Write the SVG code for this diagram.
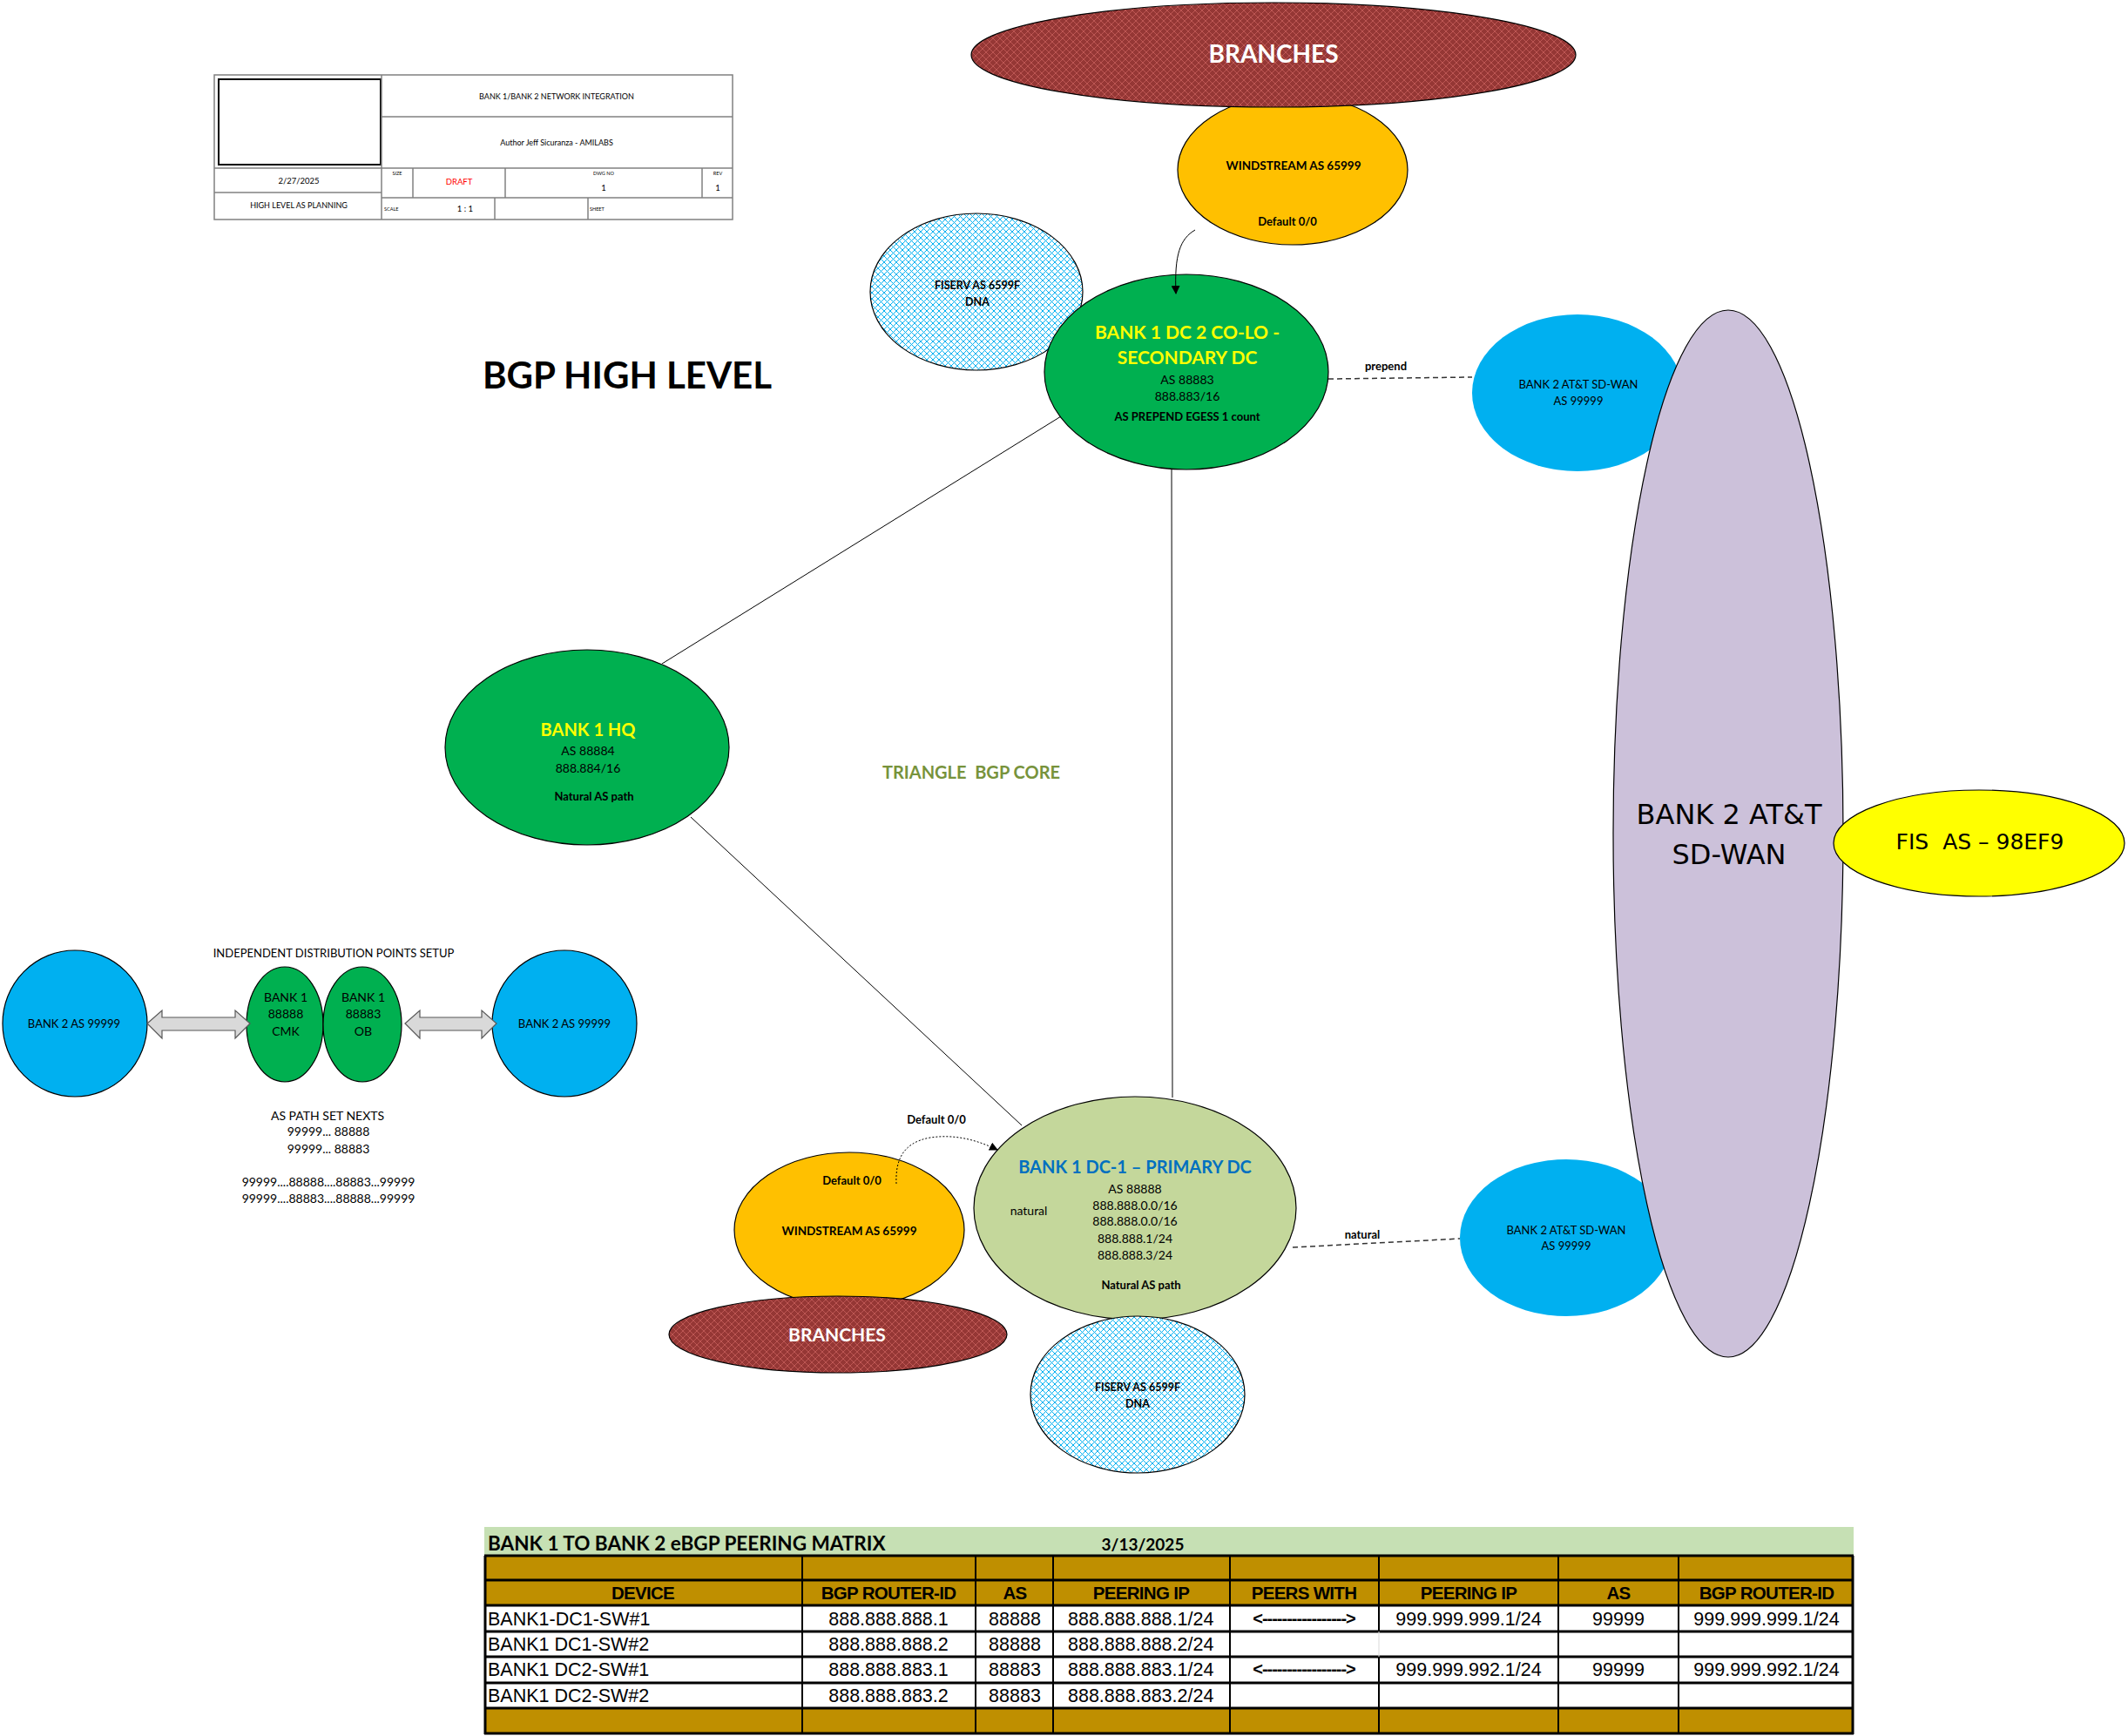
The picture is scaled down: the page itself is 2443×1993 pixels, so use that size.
<svg xmlns="http://www.w3.org/2000/svg" width="2443" height="1993" viewBox="0 0 2443 1993">
<style>
.c{font-family:Lato,"Liberation Sans",sans-serif;text-anchor:middle;fill:#000}
.b{font-weight:bold}
.l{text-anchor:start}
.e{stroke:#000;stroke-width:1.2}
.tb{fill:none;stroke:#808080;stroke-width:1.5}
.ar{font-family:"Liberation Sans",Arial,sans-serif;text-anchor:middle;fill:#000;font-size:21.5px}
.hd{font-family:"Liberation Sans",Arial,sans-serif;text-anchor:middle;fill:#000;font-size:20.5px;font-weight:bold;letter-spacing:-0.7px}
.dv{font-family:"DejaVu Sans",sans-serif;text-anchor:middle;fill:#000}
.ln{stroke:#000;stroke-width:1;fill:none}
.ds{stroke:#333;stroke-width:1.5;fill:none;stroke-dasharray:6,4}
</style>
<defs>
<pattern id="hr" width="8" height="8" patternUnits="userSpaceOnUse"><rect width="8" height="8" fill="#953735"/><path d="M0,0L8,8M8,0L0,8" stroke="#C8605C" stroke-width="0.8"/></pattern>
<pattern id="hb" width="7" height="7" patternUnits="userSpaceOnUse"><rect width="7" height="7" fill="#fff"/><path d="M0,0L7,7M7,0L0,7" stroke="#00B0F0" stroke-width="1"/></pattern>
<marker id="ah" markerWidth="10" markerHeight="10" refX="9" refY="5" orient="auto" markerUnits="userSpaceOnUse"><path d="M0,0L10,5L0,10Z" fill="#000"/></marker>
</defs>
<rect width="2443" height="1993" fill="#fff"/>

<g id="titleblock">
<rect x="246" y="86" width="595" height="166" class="tb"/>
<rect x="251" y="91" width="186" height="98" fill="none" stroke="#000" stroke-width="2"/>
<line x1="438" y1="86" x2="438" y2="252" class="tb"/>
<line x1="438" y1="134" x2="841" y2="134" class="tb"/>
<line x1="246" y1="193" x2="841" y2="193" class="tb"/>
<line x1="246" y1="221" x2="438" y2="221" class="tb"/>
<line x1="438" y1="227" x2="841" y2="227" class="tb"/>
<line x1="474" y1="193" x2="474" y2="227" class="tb"/>
<line x1="580" y1="193" x2="580" y2="227" class="tb"/>
<line x1="806" y1="193" x2="806" y2="227" class="tb"/>
<line x1="568" y1="227" x2="568" y2="252" class="tb"/>
<line x1="675" y1="227" x2="675" y2="252" class="tb"/>
<text x="639" y="114" class="c" font-size="9">BANK 1/BANK 2 NETWORK INTEGRATION</text>
<text x="639" y="167" class="c" font-size="9">Author Jeff Sicuranza - AMILABS</text>
<text x="343" y="211" class="c" font-size="9.5">2/27/2025</text>
<text x="343" y="239" class="c" font-size="9">HIGH LEVEL AS PLANNING</text>
<text x="456" y="201" class="c" font-size="5.5">SIZE</text>
<text x="527" y="212" class="c" font-size="9.5" style="fill:#FF0000">DRAFT</text>
<text x="693" y="201" class="c" font-size="5.5">DWG NO</text>
<text x="693" y="219" class="c" font-size="9.5">1</text>
<text x="824" y="201" class="c" font-size="5.5">REV</text>
<text x="824" y="219" class="c" font-size="9.5">1</text>
<text x="441" y="242" class="c l" font-size="5.5">SCALE</text>
<text x="534" y="243" class="c" font-size="9.5">1 : 1</text>
<text x="677" y="242" class="c l" font-size="5.5">SHEET</text>
</g>

<text id="heading" x="720" y="446" font-family="Lato,'Liberation Sans',sans-serif" font-weight="bold" font-size="42" text-anchor="middle">BGP HIGH LEVEL</text>

<g id="fiserv-top">
<ellipse cx="1121" cy="335" rx="122" ry="90" fill="url(#hb)" class="e"/>
<text x="1122" y="332" class="c b" font-size="12.5">FISERV AS 6599F</text>
<text x="1122" y="351" class="c b" font-size="12.5">DNA</text>
</g>
<g id="dc2">
<ellipse cx="1362" cy="427" rx="163" ry="112" fill="#00B050" class="e"/>
<text x="1363" y="389" class="c b" font-size="21" style="fill:#FFFF00">BANK 1 DC 2 CO-LO -</text>
<text x="1363" y="418" class="c b" font-size="21" style="fill:#FFFF00">SECONDARY DC</text>
<text x="1363" y="441" class="c" font-size="14">AS 88883</text>
<text x="1363" y="460" class="c" font-size="14">888.883/16</text>
<text x="1363" y="483" class="c b" font-size="13">AS PREPEND EGESS 1 count</text>
</g>
<g id="windstream-top">
<ellipse cx="1484" cy="195" rx="132" ry="86" fill="#FFC000" class="e"/>
<text x="1485" y="195" class="c b" font-size="13.5">WINDSTREAM AS 65999</text>
<text x="1478" y="259" class="c b" font-size="13">Default 0/0</text>
</g>
<g id="branches-top">
<ellipse cx="1462" cy="63" rx="347" ry="60" fill="url(#hr)" class="e"/>
<text x="1462" y="72" class="c b" font-size="28" style="fill:#fff">BRANCHES</text>
</g>
<g id="hq">
<ellipse cx="674" cy="858" rx="163" ry="112" fill="#00B050" class="e"/>
<text x="675" y="845" class="c b" font-size="20" style="fill:#FFFF00">BANK 1 HQ</text>
<text x="675" y="867" class="c" font-size="14">AS 88884</text>
<text x="675" y="887" class="c" font-size="14">888.884/16</text>
<text x="682" y="919" class="c b" font-size="13">Natural AS path</text>
</g>
<text id="triangle" x="1115" y="894" class="c b" font-size="20" style="fill:#77933C" xml:space="preserve">TRIANGLE  BGP CORE</text>

<g id="windstream-bottom">
<ellipse cx="975" cy="1412" rx="132" ry="89" fill="#FFC000" class="e"/>
<text x="975" y="1418" class="c b" font-size="13.5">WINDSTREAM AS 65999</text>
<text x="978" y="1360" class="c b" font-size="13">Default 0/0</text>
</g>
<g id="branches-bottom">
<ellipse cx="962" cy="1532" rx="194" ry="44" fill="url(#hr)" class="e"/>
<text x="961" y="1540" class="c b" font-size="21" style="fill:#fff">BRANCHES</text>
</g>
<g id="dc1">
<ellipse cx="1303" cy="1387" rx="185" ry="128" fill="#C4D79B" class="e"/>
<text x="1303" y="1347" class="c b" font-size="20" style="fill:#0070C0">BANK 1 DC-1 – PRIMARY DC</text>
<text x="1303" y="1370" class="c" font-size="14">AS 88888</text>
<text x="1303" y="1389" class="c" font-size="14">888.888.0.0/16</text>
<text x="1303" y="1407" class="c" font-size="14">888.888.0.0/16</text>
<text x="1303" y="1427" class="c" font-size="14">888.888.1/24</text>
<text x="1303" y="1446" class="c" font-size="14">888.888.3/24</text>
<text x="1181" y="1395" class="c" font-size="14">natural</text>
<text x="1310" y="1480" class="c b" font-size="13">Natural AS path</text>
</g>
<g id="fiserv-bottom">
<ellipse cx="1306" cy="1601" rx="123" ry="90" fill="url(#hb)" class="e"/>
<text x="1306" y="1597" class="c b" font-size="12.5">FISERV AS 6599F</text>
<text x="1306" y="1616" class="c b" font-size="12.5">DNA</text>
</g>

<g id="sdwan-top">
<ellipse cx="1811" cy="451" rx="121" ry="90" fill="#00B0F0"/>
<text x="1812" y="446" class="c" font-size="13">BANK 2 AT&amp;T SD-WAN</text>
<text x="1812" y="465" class="c" font-size="13">AS 99999</text>
</g>
<g id="sdwan-bottom">
<ellipse cx="1798" cy="1421" rx="122" ry="90" fill="#00B0F0"/>
<text x="1798" y="1417" class="c" font-size="13">BANK 2 AT&amp;T SD-WAN</text>
<text x="1798" y="1435" class="c" font-size="13">AS 99999</text>
</g>
<g id="att-sdwan">
<ellipse cx="1984" cy="957" rx="132" ry="601" fill="#CCC1DA" class="e"/>
<text x="1985" y="946" class="dv" font-size="32">BANK 2 AT&amp;T</text>
<text x="1985" y="992" class="dv" font-size="32">SD-WAN</text>
</g>
<g id="fis">
<ellipse cx="2272" cy="968" rx="167" ry="61" fill="#FFFF00" class="e"/>
<text x="2273" y="975" class="dv" font-size="25" xml:space="preserve">FIS  AS – 98EF9</text>
</g>

<g id="idp">
<text x="383" y="1099" class="c" font-size="13">INDEPENDENT DISTRIBUTION POINTS SETUP</text>
<g id="idp-bank2-left">
<ellipse cx="86" cy="1175" rx="83" ry="84" fill="#00B0F0" class="e"/>
<text x="85" y="1180" class="c" font-size="13">BANK 2 AS 99999</text>
</g>
<g id="idp-bank2-right">
<ellipse cx="648" cy="1175" rx="83" ry="84" fill="#00B0F0" class="e"/>
<text x="648" y="1180" class="c" font-size="13">BANK 2 AS 99999</text>
</g>
<g id="idp-cmk">
<ellipse cx="327" cy="1176" rx="44" ry="66" fill="#00B050" class="e"/>
<text x="328" y="1150" class="c" font-size="14">BANK 1</text>
<text x="328" y="1169" class="c" font-size="14">88888</text>
<text x="328" y="1189" class="c" font-size="14">CMK</text>
</g>
<g id="idp-ob">
<ellipse cx="416" cy="1176" rx="45" ry="66" fill="#00B050" class="e"/>
<text x="417" y="1150" class="c" font-size="14">BANK 1</text>
<text x="417" y="1169" class="c" font-size="14">88883</text>
<text x="417" y="1189" class="c" font-size="14">OB</text>
</g>
<path d="M169,1175L186,1160L186,1168L270,1168L270,1160L287,1175L270,1192L270,1183L186,1183L186,1192Z" fill="#D9D9D9" stroke="#595959" stroke-width="1.2"/>
<path d="M465,1175L482,1160L482,1168L553,1168L553,1160L570,1175L553,1192L553,1183L482,1183L482,1192Z" fill="#D9D9D9" stroke="#595959" stroke-width="1.2"/>
<text x="376" y="1286" class="c" font-size="14">AS PATH SET NEXTS</text>
<text x="377" y="1304" class="c" font-size="14">99999... 88888</text>
<text x="377" y="1324" class="c" font-size="14">99999... 88883</text>
<text x="377" y="1362" class="c" font-size="14">99999....88888....88883...99999</text>
<text x="377" y="1381" class="c" font-size="14">99999....88883....88888...99999</text>
</g>

<g id="connectors">
<line x1="1218" y1="478" x2="760" y2="762" class="ln"/>
<line x1="793" y1="938" x2="1173" y2="1292" class="ln"/>
<line x1="1345" y1="539" x2="1346" y2="1260" class="ln"/>
<line x1="1525" y1="435" x2="1690" y2="433" class="ds"/>
<text x="1591" y="425" class="c b" font-size="13">prepend</text>
<line x1="1484" y1="1432" x2="1676" y2="1422" class="ds"/>
<text x="1564" y="1422" class="c b" font-size="13">natural</text>
<path d="M1372,264C1355,274 1348,292 1350,337" class="ln" marker-end="url(#ah)"/>
<path d="M1029,1359C1028,1335 1034,1312 1068,1306C1095,1302 1120,1308 1145,1320" class="ln" stroke-dasharray="2,2" marker-end="url(#ah)"/>
<text x="1075" y="1290" class="c b" font-size="13">Default 0/0</text>
</g>

<g id="peering-matrix">
<rect x="556" y="1753" width="1572" height="33" fill="#C6E0B4"/>
<text x="560" y="1780" class="c b l" font-size="22.5">BANK 1 TO BANK 2 eBGP PEERING MATRIX</text>
<text x="1312" y="1780" class="c b" font-size="19">3/13/2025</text>
<rect x="556" y="1786" width="1572" height="57" fill="#BF8F00"/>
<rect x="556" y="1843" width="1572" height="118" fill="#fff"/>
<rect x="556" y="1961" width="1572" height="30" fill="#BF8F00"/>
<g stroke="#000" stroke-width="3">
<line x1="556" y1="1786" x2="2128" y2="1786"/>
<line x1="556" y1="1814" x2="2128" y2="1814"/>
<line x1="556" y1="1843" x2="2128" y2="1843"/>
<line x1="556" y1="1873" x2="2128" y2="1873"/>
<line x1="556" y1="1902" x2="2128" y2="1902"/>
<line x1="556" y1="1932" x2="2128" y2="1932"/>
<line x1="556" y1="1961" x2="2128" y2="1961"/>
<line x1="556" y1="1990" x2="2128" y2="1990"/>
<line x1="557" y1="1786" x2="557" y2="1991"/>
<line x1="2127" y1="1786" x2="2127" y2="1991"/>
</g>
<g stroke="#000" stroke-width="2">
<line x1="921" y1="1786" x2="921" y2="1991"/>
<line x1="1120" y1="1786" x2="1120" y2="1991"/>
<line x1="1209" y1="1786" x2="1209" y2="1991"/>
<line x1="1412" y1="1786" x2="1412" y2="1991"/>
<line x1="1583" y1="1786" x2="1583" y2="1873"/>
<line x1="1583" y1="1902" x2="1583" y2="1991"/>
<line x1="1789" y1="1786" x2="1789" y2="1991"/>
<line x1="1927" y1="1786" x2="1927" y2="1991"/>
</g>
<line x1="1583" y1="1873" x2="1583" y2="1902" stroke="#D9D9D9" stroke-width="1"/>
<text x="738" y="1836" class="hd">DEVICE</text>
<text x="1020" y="1836" class="hd">BGP ROUTER-ID</text>
<text x="1165" y="1836" class="hd">AS</text>
<text x="1310" y="1836" class="hd">PEERING IP</text>
<text x="1497" y="1836" class="hd">PEERS WITH</text>
<text x="1686" y="1836" class="hd">PEERING IP</text>
<text x="1858" y="1836" class="hd">AS</text>
<text x="2028" y="1836" class="hd">BGP ROUTER-ID</text>

<text x="560" y="1866" class="ar" style="text-anchor:start">BANK1-DC1-SW#1</text>
<text x="1020" y="1866" class="ar">888.888.888.1</text>
<text x="1165" y="1866" class="ar">88888</text>
<text x="1226" y="1866" class="ar" style="text-anchor:start">888.888.888.1/24</text>
<text x="1497" y="1865" class="ar" style="font-size:20px;font-weight:bold;letter-spacing:-1px">&lt;-----------------&gt;</text>
<text x="1686" y="1866" class="ar">999.999.999.1/24</text>
<text x="1858" y="1866" class="ar">99999</text>
<text x="2028" y="1866" class="ar">999.999.999.1/24</text>

<text x="560" y="1895" class="ar" style="text-anchor:start">BANK1 DC1-SW#2</text>
<text x="1020" y="1895" class="ar">888.888.888.2</text>
<text x="1165" y="1895" class="ar">88888</text>
<text x="1226" y="1895" class="ar" style="text-anchor:start">888.888.888.2/24</text>

<text x="560" y="1924" class="ar" style="text-anchor:start">BANK1 DC2-SW#1</text>
<text x="1020" y="1924" class="ar">888.888.883.1</text>
<text x="1165" y="1924" class="ar">88883</text>
<text x="1226" y="1924" class="ar" style="text-anchor:start">888.888.883.1/24</text>
<text x="1497" y="1923" class="ar" style="font-size:20px;font-weight:bold;letter-spacing:-1px">&lt;-----------------&gt;</text>
<text x="1686" y="1924" class="ar">999.999.992.1/24</text>
<text x="1858" y="1924" class="ar">99999</text>
<text x="2028" y="1924" class="ar">999.999.992.1/24</text>

<text x="560" y="1954" class="ar" style="text-anchor:start">BANK1 DC2-SW#2</text>
<text x="1020" y="1954" class="ar">888.888.883.2</text>
<text x="1165" y="1954" class="ar">88883</text>
<text x="1226" y="1954" class="ar" style="text-anchor:start">888.888.883.2/24</text>
</g>
</svg>
